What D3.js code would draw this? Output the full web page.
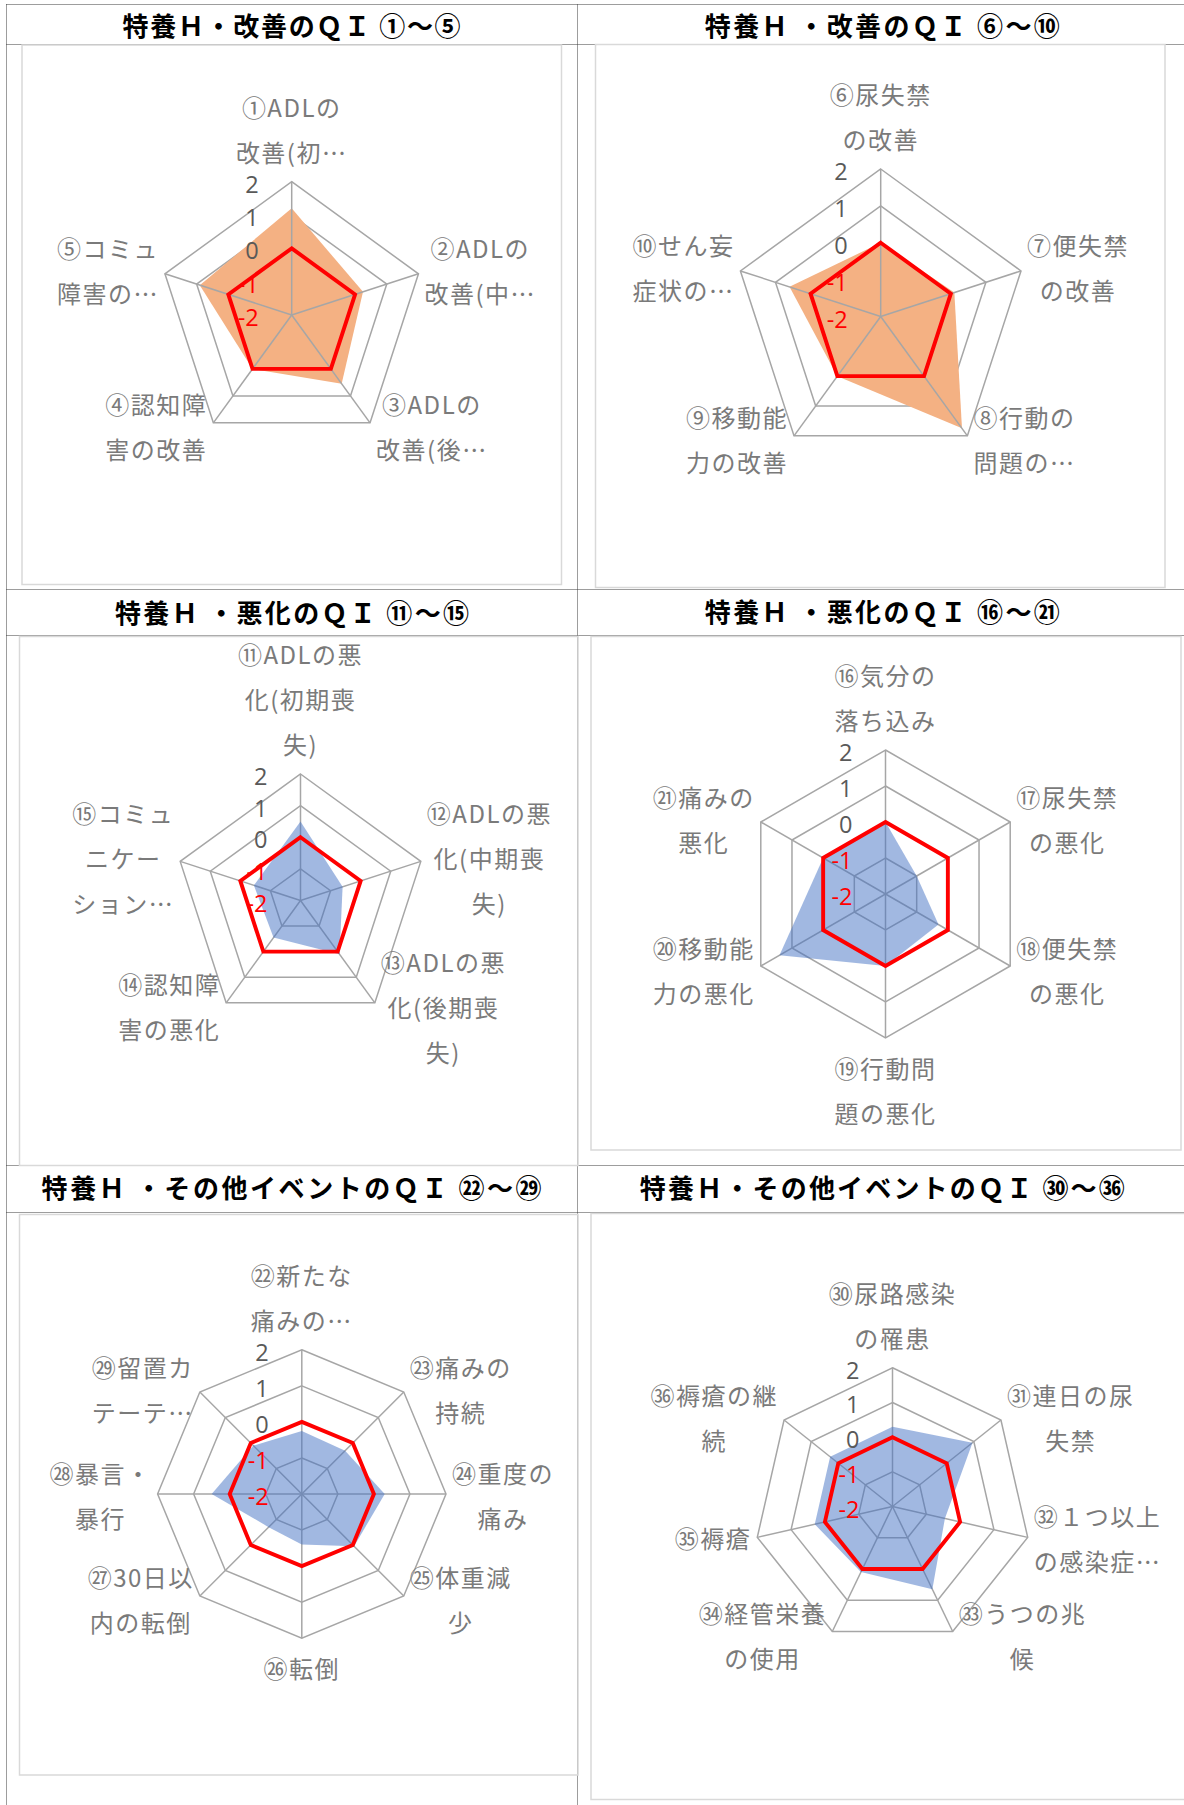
<!DOCTYPE html>
<html><head><meta charset="utf-8">
<script src="https://cdn.jsdelivr.net/npm/d3@7"></script>
<style>
html,body{margin:0;padding:0;background:#fff;}
svg{display:block;}
</style></head><body>
<svg id="chart" width="1184" height="1805"></svg>
<script>
// ================= DATA =================
const titles = [
  "特養Ｈ・改善のＱＩ ①～⑤",
  "特養Ｈ ・改善のＱＩ ⑥～⑩",
  "特養Ｈ ・悪化のＱＩ ⑪～⑮",
  "特養Ｈ ・悪化のＱＩ ⑯～㉑",
  "特養Ｈ ・その他イベントのＱＩ ㉒～㉙",
  "特養Ｈ・その他イベントのＱＩ ㉚～㊱"
];
// category labels ("\n" = line break as shown in the chart)
const categories1 = ["①ADLの\n改善(初…", "②ADLの\n改善(中…", "③ADLの\n改善(後…", "④認知障\n害の改善", "⑤コミュ\n障害の…"];
const categories2 = ["⑥尿失禁\nの改善", "⑦便失禁\nの改善", "⑧行動の\n問題の…", "⑨移動能\n力の改善", "⑩せん妄\n症状の…"];
const categories3 = ["⑪ADLの悪\n化(初期喪\n失)", "⑫ADLの悪\n化(中期喪\n失)", "⑬ADLの悪\n化(後期喪\n失)", "⑭認知障\n害の悪化", "⑮コミュ\nニケー\nション…"];
const categories4 = ["⑯気分の\n落ち込み", "⑰尿失禁\nの悪化", "⑱便失禁\nの悪化", "⑲行動問\n題の悪化", "⑳移動能\n力の悪化", "㉑痛みの\n悪化"];
const categories5 = ["㉒新たな\n痛みの…", "㉓痛みの\n持続", "㉔重度の\n痛み", "㉕体重減\n少", "㉖転倒", "㉗30日以\n内の転倒", "㉘暴言・\n暴行", "㉙留置カ\nテーテ…"];
const categories6 = ["㉚尿路感染\nの罹患", "㉛連日の尿\n失禁", "㉜１つ以上\nの感染症…", "㉝うつの兆\n候", "㉞経管栄養\nの使用", "㉟褥瘡", "㊱褥瘡の継\n続"];

// facility scores (filled area)
const values1 = [1.2, 0.25, 0.55, 0.0, 0.9];
const values2 = [0.0, 0.1, 1.75, 0.0, 0.6];
const values3 = [0.5, -0.6, 0.1, -0.55, -0.45];
const values4 = [0.0, -1.0, -0.3, 0.0, 1.4, 0.0];
const values5 = [-0.25, -0.3, 0.3, 0.05, -0.6, -0.7, 0.5, -0.1];
const values6 = [0.3, 0.95, -0.45, 0.65, 0.1, 0.3, 0.3];

// reference line (red)
const benchmark1 = [0, 0, 0, 0, 0];
const benchmark2 = [0, 0, 0, 0, 0];
const benchmark3 = [0, 0, 0, 0, 0];
const benchmark4 = [0, 0, 0, 0, 0, 0];
const benchmark5 = [0, 0, 0, 0, 0, 0, 0, 0];
const benchmark6 = [0, 0, 0, 0, 0, 0, 0];

const tickValues = [-2, -1, 0, 1, 2];
const gridValues = [-1, 0, 1, 2];
const axisDomain = [-2, 2];

// ================= LAYOUT / STYLE =================
const panels = [
  {title: titles[0], cats: categories1, vals: values1, bench: benchmark1, kind: "orange",
   cx: 291.7, cy: 315, R: 133.3, frame: [22, 45, 561.5, 584.5], tx: 291.6, ty: 24.5, tw: 338},
  {title: titles[1], cats: categories2, vals: values2, bench: benchmark2, kind: "orange",
   cx: 880.7, cy: 316.5, R: 147.5, frame: [595.5, 44.5, 1165, 587.5], tx: 882.3, ty: 24.5, tw: 355},
  {title: titles[2], cats: categories3, vals: values3, bench: benchmark3, kind: "blue",
   cx: 300.5, cy: 900.5, R: 126.5, frame: [19.5, 636.5, 578, 1165.5], tx: 292, ty: 611, tw: 354},
  {title: titles[3], cats: categories4, vals: values4, bench: benchmark4, kind: "blue",
   cx: 885.5, cy: 894, R: 144, frame: [591, 636.5, 1181, 1150], tx: 882.3, ty: 610, tw: 355},
  {title: titles[4], cats: categories5, vals: values5, bench: benchmark5, kind: "blue",
   cx: 301.8, cy: 1494, R: 144.2, frame: [19.5, 1214.5, 578, 1775], tx: 291.6, ty: 1186.5, tw: 500},
  {title: titles[5], cats: categories6, vals: values6, bench: benchmark6, kind: "blue",
   cx: 892.5, cy: 1506.5, R: 138.7, frame: [591, 1213.5, 1190, 1799.5], tx: 882.3, ty: 1186.5, tw: 485}
];

const svg = d3.select("#chart");
const LABEL_FONT = "'Noto Sans CJK JP', 'Noto Sans', sans-serif";
const LH = 45;

// ---- table (dotted) ----
const table = svg.append("g").attr("stroke", "#3a3a3a").attr("stroke-width", 1)
  .attr("stroke-dasharray", "1,1").attr("fill", "none");
[4.5, 44.5, 589.5, 635.5, 1165.5, 1212.5].forEach(y =>
  table.append("line").attr("x1", 6.5).attr("x2", 1184).attr("y1", y).attr("y2", y));
[6.5, 577.5].forEach(x =>
  table.append("line").attr("x1", x).attr("x2", x).attr("y1", 4.5).attr("y2", 1805));

function drawPanel(p) {
  // chart frame
  svg.append("rect")
    .attr("x", p.frame[0]).attr("y", p.frame[1])
    .attr("width", p.frame[2] - p.frame[0]).attr("height", p.frame[3] - p.frame[1])
    .attr("fill", "none").attr("stroke", "#d9d9d9").attr("stroke-width", 1.5);

  // title
  svg.append("text")
    .attr("x", p.tx).attr("y", p.ty)
    .attr("text-anchor", "middle").attr("dominant-baseline", "central")
    .attr("font-family", LABEL_FONT).attr("font-weight", 700).attr("font-size", 26)
    .attr("fill", "#000")
    .attr("textLength", p.tw).attr("lengthAdjust", "spacing")
    .text(p.title);

  const n = p.cats.length;
  const r = d3.scaleLinear().domain(axisDomain).range([0, p.R]);
  const ang = i => i * 2 * Math.PI / n;
  const radial = d3.lineRadial()
    .angle((d, i) => ang(i))
    .radius(d => r(d))
    .curve(d3.curveLinearClosed);

  const g = svg.append("g").attr("transform", `translate(${p.cx},${p.cy})`);

  const drawGrid = () => {
    gridValues.forEach(v => {
      g.append("path").attr("d", radial(d3.range(n).map(() => v)))
        .attr("fill", "none").attr("stroke", "#a6a6a6").attr("stroke-width", 1.5);
    });
  };
  const drawSpokes = () => {
    d3.range(n).forEach(i => {
      const a = ang(i);
      g.append("line").attr("x1", 0).attr("y1", 0)
        .attr("x2", r(axisDomain[1]) * Math.sin(a)).attr("y2", -r(axisDomain[1]) * Math.cos(a))
        .attr("stroke", "#a6a6a6").attr("stroke-width", 1.5);
    });
  };

  drawGrid();
  if (p.kind === "orange") {
    g.append("path").attr("d", radial(p.vals)).attr("fill", "#f4b183").attr("stroke", "none");
    drawSpokes();
  } else {
    drawSpokes();
    g.append("path").attr("d", radial(p.vals)).attr("fill", "#4472c4").attr("fill-opacity", 0.5)
      .attr("stroke", "none");
  }
  // red reference line
  g.append("path").attr("d", radial(p.bench))
    .attr("fill", "none").attr("stroke", "#ff0000").attr("stroke-width", 3.9)
    .attr("stroke-linejoin", "miter");

  // tick labels
  tickValues.forEach(v => {
    g.append("text")
      .attr("x", -33).attr("y", -r(v) + 2)
      .attr("text-anchor", "end").attr("dominant-baseline", "central")
      .attr("font-family", "'Open Sans', 'Liberation Sans', sans-serif").attr("font-size", 23.5)
      .attr("fill", v < 0 ? "#ff0000" : "#595959")
      .text(v);
  });

  // category labels
  p.cats.forEach((cat, i) => {
    const lines = cat.split("\n");
    const a = ang(i), s = Math.sin(a), c = Math.cos(a);
    const vx = p.cx + p.R * s, vy = p.cy - p.R * c;
    const t = svg.append("text")
      .attr("font-family", LABEL_FONT).attr("font-size", 24)
      .attr("letter-spacing", 1.5)
      .attr("fill", "#7a7a7a").attr("text-anchor", "middle")
      .attr("dominant-baseline", "central");
    const spans = lines.map(l => t.append("tspan").attr("dominant-baseline", "central").text(l));
    const W = d3.max(spans, sp => sp.node().getComputedTextLength());
    let x, y0;
    const m = lines.length;
    if (Math.abs(s) < 0.2) {
      x = vx;
      y0 = c > 0 ? vy - 31 - (m - 1) * LH : vy + 29;
    } else {
      x = vx + Math.sign(s) * (6 + W / 2);
      const off = c > 0.2 ? -4 : (c < -0.3 ? 3 : 0);
      y0 = vy + off - (m - 1) * LH / 2;
    }
    spans.forEach((sp, k) => sp.attr("x", x).attr("y", y0 + k * LH));
  });
}

panels.forEach(drawPanel);
</script>
</body></html>
